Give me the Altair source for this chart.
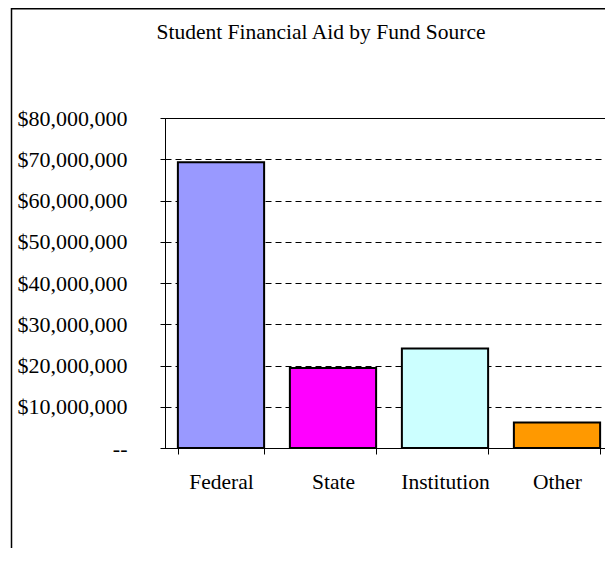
import altair as alt
import pandas as pd

categories = ["Federal", "State", "Institution", "Other"]
amounts = [69300000, 19400000, 24100000, 6200000]
bar_colors = ["#9999FF", "#FF00FF", "#CCFFFF", "#FF9900"]
y_tick_values = [0, 10000000, 20000000, 30000000, 40000000, 50000000, 60000000, 70000000, 80000000]
title_text = "Student Financial Aid by Fund Source"

df = pd.DataFrame({"source": categories, "amount": amounts})

FONT = "Liberation Serif"

bars = alt.Chart(df).mark_bar(stroke="black", strokeWidth=2).encode(
    x=alt.X(
        "source:N", sort=categories, title=None,
        scale=alt.Scale(paddingInner=0.23, paddingOuter=0.115),
        axis=alt.Axis(labelAngle=0, tickBand="extent", tickSize=6, labelPadding=34,
                      labelFont=FONT, labelFontSize=21.5, labelColor="black",
                      domainColor="black", tickColor="black", grid=False,
                      labelBaseline="alphabetic"),
    ),
    y=alt.Y(
        "amount:Q", title=None,
        scale=alt.Scale(domain=[0, 80000000], nice=False),
        axis=alt.Axis(values=y_tick_values,
                      labelExpr="datum.value == 0 ? '--' : format(datum.value, '$,.0f')",
                      tickSize=5, labelPadding=33, labelFont=FONT, labelFontSize=22,
                      labelColor="black", grid=True, gridDash=[6, 4], gridColor="black",
                      domainColor="black", tickColor="black"),
    ),
    color=alt.Color("source:N", scale=alt.Scale(domain=categories, range=bar_colors), legend=None),
)

frame = alt.Chart(alt.Data(values=[{"f": 1}])).mark_rect(
    fillOpacity=0, stroke="black", strokeWidth=1.5
).encode(
    x=alt.value(-153.5), x2=alt.value(1000), y=alt.value(-109.25), y2=alt.value(1000)
)

title = alt.Chart(alt.Data(values=[{"t": title_text}])).mark_text(
    font=FONT, fontSize=21.5, color="black", align="center", baseline="alphabetic"
).encode(
    text="t:N", x=alt.value(156), y=alt.value(-79)
)

chart = alt.layer(frame, bars, title).properties(
    width=448,
    height=330,
    autosize=alt.AutoSizeParams(type="none"),
    padding={"left": 157, "top": 110, "right": -8, "bottom": 100},
).configure_view(stroke="black", strokeWidth=1)

chart.save("out.html", embed_options={"renderer": "svg", "actions": False})
